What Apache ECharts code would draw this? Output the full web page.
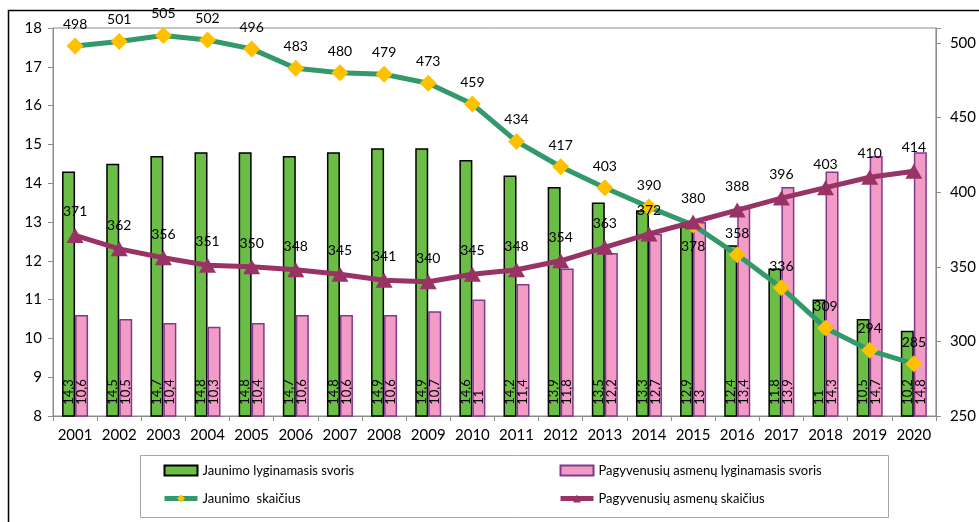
<!DOCTYPE html>
<html>
<head>
<meta charset="utf-8">
<script src="https://cdn.jsdelivr.net/npm/echarts@6/dist/echarts.min.js"></script>
<style>
  html, body { margin: 0; padding: 0; background: #fff; }
  #chart { width: 979px; height: 522px; }
</style>
</head>
<body>
<div id="chart"></div>
<script>
var years = ['2001','2002','2003','2004','2005','2006','2007','2008','2009','2010',
             '2011','2012','2013','2014','2015','2016','2017','2018','2019','2020']
// lyginamasis svoris (%), kairė ašis
var youthShare = [14.3,14.5,14.7,14.8,14.8,14.7,14.8,14.9,14.9,14.6,14.2,13.9,13.5,13.3,12.9,12.4,11.8,11,10.5,10.2]
var elderShare = [10.6,10.5,10.4,10.3,10.4,10.6,10.6,10.6,10.7,11,11.4,11.8,12.2,12.7,13,13.4,13.9,14.3,14.7,14.8]
// skaičius (tūkst.), dešinė ašis
var youthCount = [498,501,505,502,496,483,480,479,473,459,434,417,403,390,378,358,336,309,294,285]
var elderCount = [371,362,356,351,350,348,345,341,340,345,348,354,363,372,380,388,396,403,410,414]

var FONT = 'Lato'

var dom = document.getElementById('chart')
var myChart = echarts.init(dom)

var barLabel = {
    show: true,
    position: 'insideBottom',
    rotate: 90,
    align: 'left',
    verticalAlign: 'middle',
    distance: 12,
    color: '#000',
    fontFamily: FONT,
    fontSize: 13,
    formatter: function (p) { return String(p.value).replace('.', ',') }
}

var youthData = youthCount.map(function (v, i) {
    // 2015 label sits under the point in the original
    if (years[i] === '2015') return { value: v, label: { position: 'bottom' } }
    return v
})

var legendText = { fontFamily: FONT, fontSize: 13, color: '#000' }

var option = {
    animation: false,
    textStyle: { fontFamily: FONT },
    grid: {
        left: 53, top: 28, right: 41, bottom: 106,
        show: true, borderColor: '#8c8c8c', borderWidth: 1
    },
    graphic: [
        {
            type: 'rect', silent: true,
            shape: { x: 8.5, y: 10.5, width: 1000, height: 600 },
            style: { fill: 'none', stroke: '#000', lineWidth: 1.5 }
        },
        {
            type: 'rect', silent: true,
            shape: { x: 140.5, y: 455.5, width: 748, height: 62 },
            style: { fill: 'none', stroke: '#a6a6a6', lineWidth: 1 }
        }
    ],
    legend: [
        {
            left: 157, top: 459, orient: 'vertical', itemGap: 15,
            itemWidth: 33, itemHeight: 10,
            lineStyle: { width: 5 },
            textStyle: legendText,
            data: [{ name: 'Jaunimo lyginamasis svoris', icon: 'rect' }, 'Jaunimo  skaičius']
        },
        {
            left: 553, top: 459, orient: 'vertical', itemGap: 15,
            itemWidth: 33, itemHeight: 10,
            lineStyle: { width: 5 },
            textStyle: legendText,
            data: [{ name: 'Pagyvenusių asmenų lyginamasis svoris', icon: 'rect' }, 'Pagyvenusių asmenų skaičius']
        }
    ],
    xAxis: {
        type: 'category',
        data: years,
        axisLine: { lineStyle: { color: '#8c8c8c' } },
        axisTick: { show: true, length: 5, interval: 0, lineStyle: { color: '#8c8c8c' } },
        axisLabel: { color: '#000', fontSize: 15, fontFamily: FONT, margin: 12, interval: 0 }
    },
    yAxis: [
        {
            type: 'value', min: 8, max: 18, interval: 1,
            splitLine: { show: false },
            axisLine: { show: true, lineStyle: { color: '#8c8c8c' } },
            axisTick: { show: true, length: 5, lineStyle: { color: '#8c8c8c' } },
            axisLabel: { color: '#000', fontSize: 15, fontFamily: FONT, margin: 11 }
        },
        {
            type: 'value', min: 250, max: 510, interval: 50,
            splitLine: { show: false },
            axisLine: { show: true, lineStyle: { color: '#8c8c8c' } },
            axisTick: { show: true, length: 5, lineStyle: { color: '#8c8c8c' } },
            axisLabel: {
                color: '#000', fontSize: 15, fontFamily: FONT, margin: 14,
                formatter: function (v) { return v % 50 === 0 ? String(v) : '' }
            }
        }
    ],
    series: [
        {
            name: 'Jaunimo lyginamasis svoris',
            type: 'bar',
            data: youthShare,
            barWidth: 13,
            barGap: '0%',
            itemStyle: { color: '#6abd45', borderColor: '#000', borderWidth: 1.5 },
            label: barLabel
        },
        {
            name: 'Pagyvenusių asmenų lyginamasis svoris',
            type: 'bar',
            data: elderShare,
            barWidth: 13,
            itemStyle: { color: '#f29bc6', borderColor: '#7f3a8c', borderWidth: 1.5 },
            label: barLabel
        },
        {
            name: 'Jaunimo  skaičius',
            type: 'line',
            yAxisIndex: 1,
            data: youthData,
            symbol: 'diamond',
            symbolSize: 17,
            lineStyle: { color: '#31996a', width: 5 },
            itemStyle: { color: '#ffc000', borderWidth: 0 },
            label: { show: true, position: 'top', distance: 6, color: '#000', fontSize: 14, fontFamily: FONT },
            z: 3
        },
        {
            name: 'Pagyvenusių asmenų skaičius',
            type: 'line',
            yAxisIndex: 1,
            data: elderCount,
            symbol: 'triangle',
            symbolSize: [17, 15],
            lineStyle: { color: '#993366', width: 5 },
            itemStyle: { color: '#993366', borderWidth: 0 },
            label: { show: true, position: 'top', distance: 9, color: '#000', fontSize: 14, fontFamily: FONT },
            z: 4
        }
    ]
}

myChart.setOption(option)
</script>
</body>
</html>
